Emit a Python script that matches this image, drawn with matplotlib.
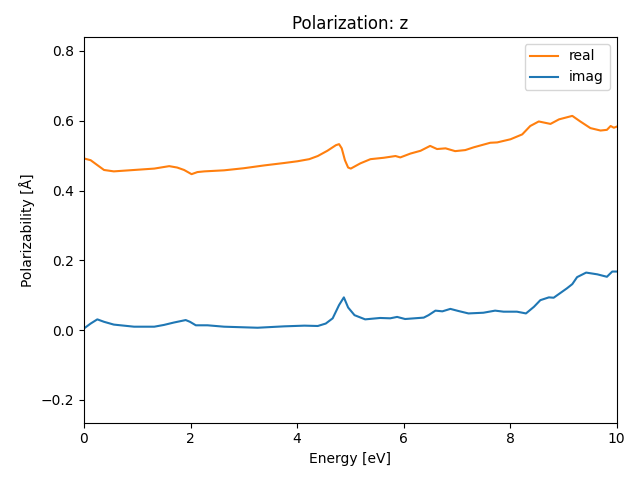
import matplotlib
matplotlib.use("Agg")
import matplotlib.pyplot as plt

real_x = [0.0, 0.125, 0.25, 0.376, 0.56, 0.94, 1.32, 1.6, 1.75, 1.88, 2.02, 2.13, 2.26, 2.63,
          3.0, 3.38, 3.76, 4.01, 4.23, 4.39, 4.57, 4.73, 4.79, 4.84, 4.9, 4.96, 5.01,
          5.19, 5.38, 5.63, 5.85, 5.94, 6.13, 6.32, 6.5, 6.63, 6.79, 6.97, 7.16, 7.32,
          7.63, 7.76, 8.01, 8.23, 8.38, 8.54, 8.76, 8.92, 9.17, 9.32, 9.51, 9.7, 9.82,
          9.89, 9.95, 10.0]
real_y = [0.492, 0.487, 0.473, 0.459, 0.455, 0.459, 0.463, 0.470, 0.466, 0.459, 0.447, 0.453,
          0.455, 0.458, 0.464, 0.472, 0.479, 0.484, 0.490, 0.499, 0.514, 0.530, 0.533, 0.521,
          0.487, 0.466, 0.463, 0.478, 0.490, 0.494, 0.499, 0.495, 0.506, 0.514, 0.528, 0.519,
          0.521, 0.513, 0.516, 0.524, 0.537, 0.538, 0.547, 0.561, 0.585, 0.598, 0.591, 0.604,
          0.614, 0.598, 0.579, 0.572, 0.574, 0.585, 0.580, 0.583]

imag_x = [0.0, 0.125, 0.25, 0.376, 0.56, 0.94, 1.32, 1.5, 1.69, 1.91, 1.99, 2.1, 2.32, 2.63,
          3.26, 3.76, 4.14, 4.39, 4.54, 4.67, 4.79, 4.88, 4.96, 5.08, 5.28, 5.56,
          5.75, 5.88, 6.03, 6.38, 6.47, 6.6, 6.73, 6.88, 7.03, 7.22, 7.5, 7.72, 7.88,
          8.13, 8.3, 8.45, 8.57, 8.73, 8.82, 9.07, 9.17, 9.26, 9.43, 9.64, 9.82, 9.92, 10.0]
imag_y = [0.005, 0.019, 0.031, 0.024, 0.016, 0.010, 0.010, 0.015, 0.022, 0.029, 0.024, 0.014,
          0.014, 0.010, 0.007, 0.011, 0.013, 0.012, 0.019, 0.034, 0.072, 0.094, 0.065, 0.043,
          0.031, 0.035, 0.034, 0.038, 0.032, 0.036, 0.043, 0.056, 0.054, 0.061, 0.055, 0.048,
          0.050, 0.056, 0.053, 0.053, 0.048, 0.067, 0.086, 0.094, 0.093, 0.120, 0.132, 0.152,
          0.165, 0.160, 0.153, 0.168, 0.168]

fig, ax = plt.subplots(figsize=(6.4, 4.8), dpi=100)
ax.plot(real_x, real_y, color="C1", label="real")
ax.plot(imag_x, imag_y, color="C0", label="imag")
ax.set_xlim(0, 10)
ax.set_ylim(-0.2645, 0.84)
ax.set_title("Polarization: z")
ax.set_xlabel("Energy [eV]")
ax.set_ylabel("Polarizability [Å]")
ax.legend(loc="upper right")
fig.subplots_adjust(left=84/640, right=616.5/640, top=1-37/480, bottom=1-422.5/480)
fig.savefig("out.png")
